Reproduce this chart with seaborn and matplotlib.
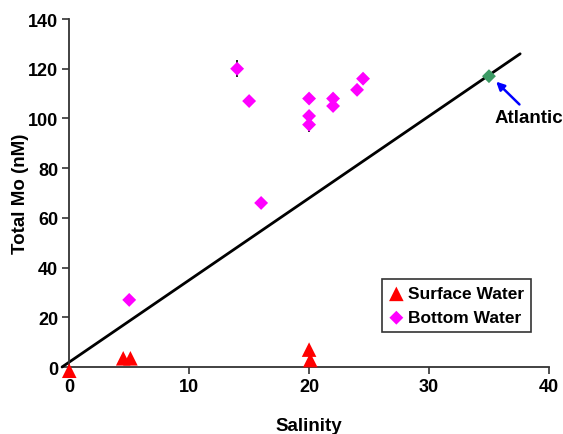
import matplotlib
matplotlib.use("Agg")
import matplotlib.pyplot as plt
import seaborn as sns
import pandas as pd

# Data
surface_sal = [0.0, 4.5, 5.1, 20.0, 20.1]
surface_mo = [-1.5, 3.5, 3.5, 7.0, 2.8]

bottom_sal = [5.0, 14.0, 15.0, 16.0, 20.0, 20.0, 20.0, 22.0, 22.0, 24.0, 24.5]
bottom_mo = [27.0, 120.0, 107.0, 66.0, 108.0, 101.0, 97.5, 108.0, 105.0, 111.5, 116.0]
bottom_err = [0.0, 3.5, 0.0, 0.0, 0.0, 0.0, 3.0, 0.0, 0.0, 0.0, 0.0]

atlantic_sal = [35.0]
atlantic_mo = [117.0]

line_sal = [-0.6, 37.6]
line_mo = [0.0, 126.0]

sns.set_theme(style="ticks")
plt.rcParams['font.family'] = ['Liberation Sans', 'DejaVu Sans']
plt.rcParams['font.weight'] = 'bold'
plt.rcParams['text.color'] = 'black'
plt.rcParams['axes.labelcolor'] = 'black'
plt.rcParams['xtick.labelcolor'] = 'black'
plt.rcParams['ytick.labelcolor'] = 'black'

fig = plt.figure(figsize=(5.63, 4.35), dpi=100)
ax = fig.add_axes([0.123, 0.154, 0.852, 0.800])

sns.lineplot(x=line_sal, y=line_mo, ax=ax, color='black', linewidth=2.0,
             clip_on=False, legend=False, zorder=2)

ax.errorbar(bottom_sal, bottom_mo, yerr=bottom_err, fmt='none', ecolor='black',
            elinewidth=1.2, capsize=0, zorder=3)

sns.scatterplot(x=surface_sal, y=surface_mo, ax=ax, marker='^', color='#ff0000',
                s=110, edgecolor='none', label='Surface Water', clip_on=False, zorder=4)
sns.scatterplot(x=bottom_sal, y=bottom_mo, ax=ax, marker='D', color='#ff00ff',
                s=50, edgecolor='none', label='Bottom Water', zorder=4)
sns.scatterplot(x=atlantic_sal, y=atlantic_mo, ax=ax, marker='D', color='#3c9a64',
                s=50, edgecolor='none', legend=False, zorder=5)

ax.annotate('Atlantic', xy=(35.6, 114.8), xytext=(35.5, 100.5), fontsize=13.5,
            fontweight='bold', ha='left', va='center', annotation_clip=False,
            color='black',
            arrowprops=dict(arrowstyle='-|>', color='#0000ff', lw=1.8,
                            mutation_scale=12, shrinkA=1, shrinkB=0,
                            relpos=(0.42, 1.0)))

ax.set_xlim(0, 40)
ax.set_ylim(0, 140)
ax.set_xticks([0, 10, 20, 30, 40])
ax.set_yticks(list(range(0, 141, 20)))
ax.set_xlabel('Salinity', fontsize=13.5, fontweight='bold', labelpad=16)
ax.set_ylabel('Total Mo (nM)', fontsize=13.5, fontweight='bold', labelpad=-1)
ax.tick_params(axis='both', labelsize=13, direction='out', length=5, width=1.2,
               color='#333333', labelcolor='black', pad=3)
for lab in ax.get_xticklabels() + ax.get_yticklabels():
    lab.set_fontweight('bold')
sns.despine(ax=ax)
for sp in ['left', 'bottom']:
    ax.spines[sp].set_linewidth(1.3)
    ax.spines[sp].set_color('#333333')

leg = ax.legend(loc='lower right', bbox_to_anchor=(0.962, 0.10), frameon=True,
                fancybox=False, edgecolor='black', fontsize=12.5, handletextpad=0.2,
                borderpad=0.4, labelspacing=0.5, handlelength=0.9,
                borderaxespad=0.0)
leg.get_frame().set_linewidth(1.2)
for t in leg.get_texts():
    t.set_fontweight('bold')
    t.set_color('black')

fig.savefig('out.png', dpi=100)
